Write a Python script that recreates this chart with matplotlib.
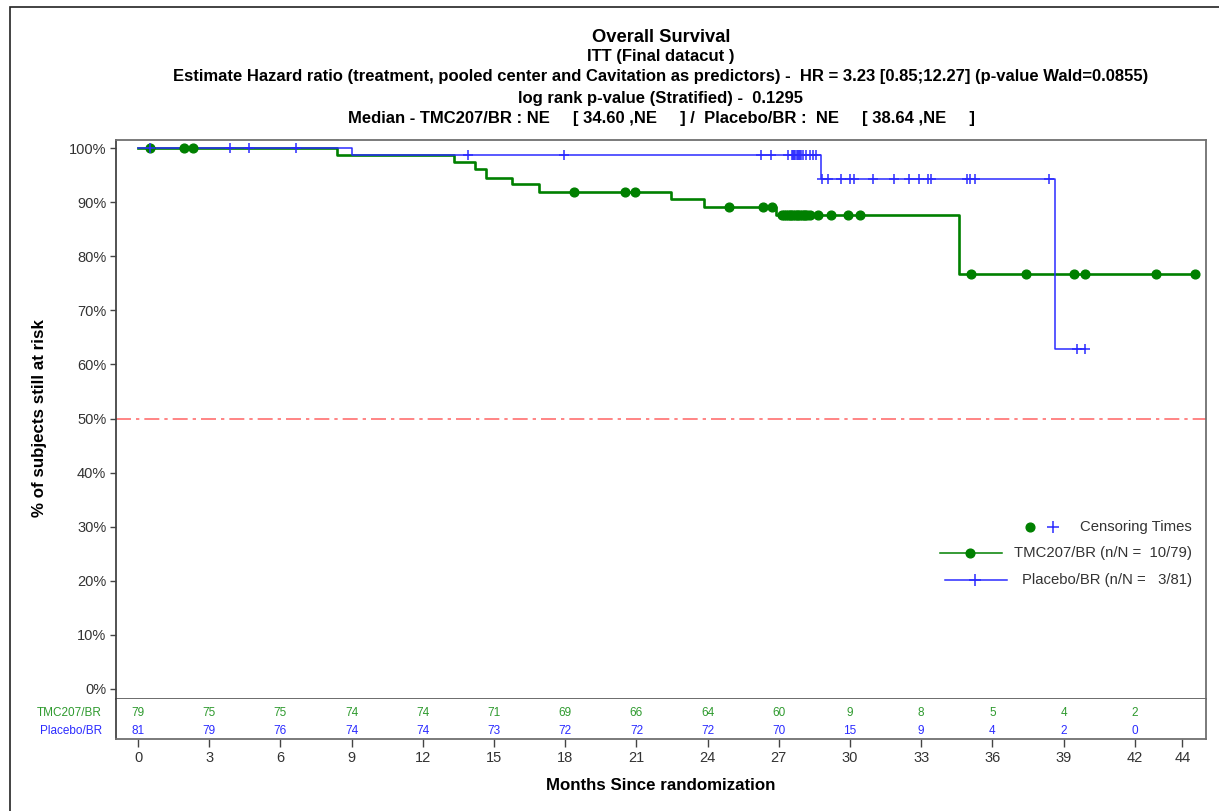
import matplotlib
matplotlib.use("Agg")
import matplotlib.pyplot as plt
from matplotlib.lines import Line2D
from matplotlib.patches import Rectangle
import numpy as np

plt.rcParams['font.family'] = ['Liberation Sans', 'DejaVu Sans']

# KM step curves (event times, survival %)
tmc_times = [0, 8.4, 13.31, 14.18, 14.64, 15.76, 16.88, 22.46, 23.86, 26.88, 34.61, 44.55]
tmc_surv = [100, 98.7, 97.4, 96.1, 94.4, 93.3, 91.9, 90.5, 89.2, 87.6, 76.7, 76.7]
pbo_times = [0, 9.03, 28.77, 38.64, 39.92]
pbo_surv = [100, 98.8, 94.3, 62.8, 62.8]

# censoring times
tmc_cens = [0.52, 1.92, 2.30, 18.38, 20.53, 20.93, 24.92, 26.32, 26.72,
            27.15, 27.22, 27.3, 27.38, 27.45, 27.52, 27.6, 27.68, 27.75, 27.82,
            27.9, 27.98, 28.05, 28.12, 28.2, 28.3, 28.65, 29.21, 29.9, 30.43,
            35.09, 37.40, 39.44, 39.89, 42.90, 44.55]
pbo_cens = [0.52, 3.87, 4.68, 6.65, 13.91, 17.94, 26.24, 26.68, 27.37,
            27.55, 27.6, 27.65, 27.7, 27.75, 27.8, 27.85, 27.9, 27.95, 28.0,
            28.13, 28.31, 28.45, 28.55, 28.82, 29.06, 29.62, 30.02, 30.15,
            30.96, 31.84, 32.49, 32.92, 33.28, 33.42, 34.93, 35.05, 35.26,
            38.40, 39.55, 39.92]

# number at risk
risk_times = [0, 3, 6, 9, 12, 15, 18, 21, 24, 27, 30, 33, 36, 39, 42]
tmc_risk = [79, 75, 75, 74, 74, 71, 69, 66, 64, 60, 9, 8, 5, 4, 2]
pbo_risk = [81, 79, 76, 74, 74, 73, 72, 72, 72, 70, 15, 9, 4, 2, 0]
xticks = [0, 3, 6, 9, 12, 15, 18, 21, 24, 27, 30, 33, 36, 39, 42, 44]

green = '#008000'
blue = '#2b2bff'
green_txt = '#2e9a2e'
frame_c = '#707070'


def surv_at(times, surv, t):
    i = np.searchsorted(times, t, side='right') - 1
    return np.array(surv)[i]


W, H = 1219, 811
fig = plt.figure(figsize=(W / 100, H / 100), dpi=100)

L, R = 116, 1206
top, mid, bot = 140, 699, 739
ax = fig.add_axes([L / W, 1 - mid / H, (R - L) / W, (mid - top) / H])
ax2 = fig.add_axes([L / W, 1 - bot / H, (R - L) / W, (bot - mid) / H], sharex=ax)

xmin, xmax = -0.93, 45.0
ax.set_xlim(xmin, xmax)
ax.set_ylim(-1.85, 101.5)

ax.step(tmc_times, tmc_surv, where='post', color=green, lw=1.9, zorder=2)
ax.step(pbo_times, pbo_surv, where='post', color=blue, lw=1.1, zorder=3)
ax.plot(tmc_cens, surv_at(tmc_times, tmc_surv, tmc_cens), 'o', color=green,
        ms=6.3, ls='none', zorder=4)
ax.plot(pbo_cens, surv_at(pbo_times, pbo_surv, pbo_cens), '+', color=blue,
        ms=6.5, mew=1.1, ls='none', zorder=5)

ax.axhline(50, color='#ff7070', lw=1.2, ls=(0, (9, 3, 2, 3)), zorder=1)

ax.set_yticks(range(0, 101, 10))
ax.set_yticklabels([f'{v}%' for v in range(0, 101, 10)], fontsize=10.5, color='#333333')
ax.tick_params(axis='y', direction='out', length=4, width=1, color='#444444', pad=3)
ax.tick_params(axis='x', bottom=False, labelbottom=False)
for s in ax.spines.values():
    s.set_color(frame_c)
    s.set_linewidth(1.3)
ax.spines['left'].set_color('#444444')
ax.spines['bottom'].set_color('#444444')
ax.spines['bottom'].set_linewidth(1.1)

# at-risk table
ax2.set_ylim(0, 1)
ax2.set_yticks([])
ax2.spines['top'].set_visible(False)
for s in ['left', 'right', 'bottom']:
    ax2.spines[s].set_color(frame_c)
    ax2.spines[s].set_linewidth(1.3)
ax2.spines['left'].set_color('#444444')
for t, a, b in zip(risk_times, tmc_risk, pbo_risk):
    ax2.text(t, 0.65, str(a), color=green_txt, fontsize=8.5, ha='center', va='center')
    ax2.text(t, 0.2, str(b), color=blue, fontsize=8.5, ha='center', va='center')
ax2.set_xticks(xticks)
ax2.set_xticklabels([str(v) for v in xticks], fontsize=10.5, color='#333333')
ax2.tick_params(axis='x', direction='out', length=6, width=1, color='#444444', pad=3)
ax2.set_xlim(xmin, xmax)

fig.text(102 / W, 1 - 713 / H, 'TMC207/BR', color=green_txt, fontsize=8.5, ha='right', va='center')
fig.text(102 / W, 1 - 731 / H, 'Placebo/BR', color=blue, fontsize=8.5, ha='right', va='center')

# legend drawn by hand
def ax_xy(px, py):
    return (px - L) / (R - L), (mid - py) / (mid - top)

lx, ly = ax_xy(1030, 527)
ax.add_line(Line2D([lx], [ly], marker='o', color=green, ms=6.3, transform=ax.transAxes))
lx, ly = ax_xy(1053, 527)
ax.add_line(Line2D([lx], [ly], marker='+', color=blue, ms=9, mew=1.1, transform=ax.transAxes))
tx, ty = ax_xy(1192, 527)
ax.text(tx, ty, 'Censoring Times', transform=ax.transAxes, ha='right', va='center',
        fontsize=10.7, color='#333333')

x1, y1 = ax_xy(940, 553)
x2, _ = ax_xy(1002, 553)
xm, _ = ax_xy(970, 553)
ax.add_line(Line2D([x1, x2], [y1, y1], color=green, lw=1.1, transform=ax.transAxes))
ax.add_line(Line2D([xm], [y1], marker='o', color=green, ms=6.3, transform=ax.transAxes))
ax.text(tx, y1, 'TMC207/BR (n/N =  10/79)', transform=ax.transAxes, ha='right',
        va='center', fontsize=10.7, color='#333333')

x1, y1 = ax_xy(945, 580)
x2, _ = ax_xy(1007, 580)
xm, _ = ax_xy(975, 580)
ax.add_line(Line2D([x1, x2], [y1, y1], color=blue, lw=1.1, transform=ax.transAxes))
ax.add_line(Line2D([xm], [y1], marker='+', color=blue, ms=9, mew=1.1, transform=ax.transAxes))
ax.text(tx, y1, 'Placebo/BR (n/N =   3/81)', transform=ax.transAxes, ha='right',
        va='center', fontsize=10.7, color='#333333')

# titles
cx = 661 / W
fig.text(cx, 1 - 37 / H, 'Overall Survival', ha='center', va='center', fontsize=13.2, weight='bold')
fig.text(cx, 1 - 57 / H, 'ITT (Final datacut )', ha='center', va='center', fontsize=12, weight='bold')
fig.text(cx, 1 - 77 / H,
         'Estimate Hazard ratio (treatment, pooled center and Cavitation as predictors) -  '
         'HR = 3.23 [0.85;12.27] (p-value Wald=0.0855)',
         ha='center', va='center', fontsize=12, weight='bold')
fig.text(cx, 1 - 98 / H, 'log rank p-value (Stratified) -  0.1295', ha='center', va='center',
         fontsize=12, weight='bold')
fig.text(cx, 1 - 118 / H,
         'Median - TMC207/BR : NE     [ 34.60 ,NE     ] /  Placebo/BR :  NE     [ 38.64 ,NE     ]',
         ha='center', va='center', fontsize=12, weight='bold')

fig.text(40 / W, 1 - 418 / H, '% of subjects still at risk', rotation=90, ha='center',
         va='center', fontsize=12.2, weight='bold')
fig.text(cx, 1 - 786 / H, 'Months Since randomization', ha='center', va='center',
         fontsize=12.2, weight='bold')

# outer page border
fig.patches.append(Rectangle((10 / W, -0.1), 1.2, 1.1 - 7 / H, transform=fig.transFigure,
                             fill=False, edgecolor='#222222', lw=1.2))

fig.savefig('out.png', dpi=100)
